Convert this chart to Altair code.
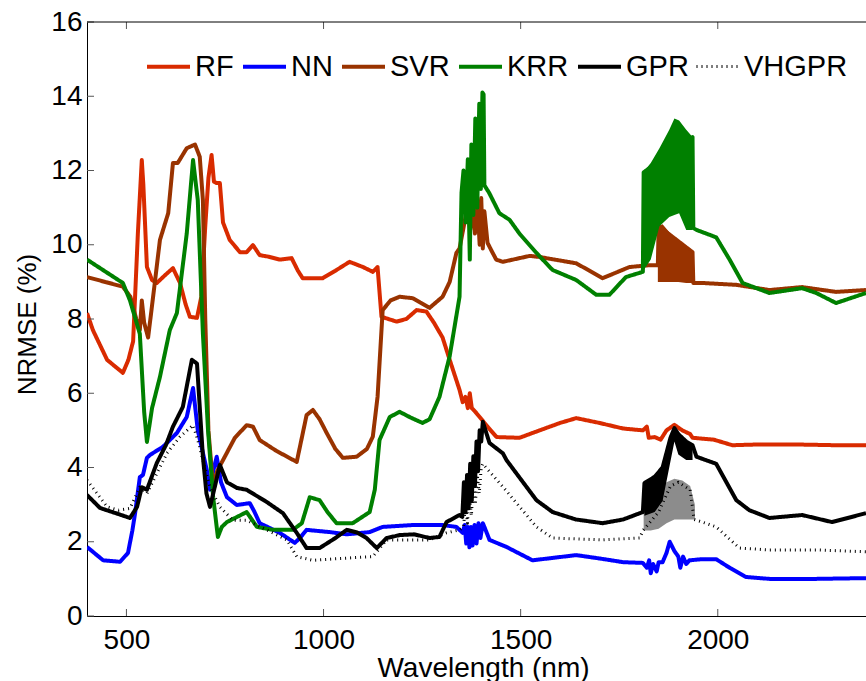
import altair as alt
import pandas as pd

MODELS = ["RF", "NN", "SVR", "KRR", "GPR", "VHGPR"]
COLORS = ["#D92B00", "#0000FF", "#993300", "#008000", "#000000", "#000000"]
DASHES = [[1, 0], [1, 0], [1, 0], [1, 0], [1, 0], [1, 4]]
WIDTHS = [4, 4, 4, 4, 4, 3]

X_TICKS = [500, 1000, 1500, 2000]
Y_TICKS = [0, 2, 4, 6, 8, 10, 12, 14, 16]

RF_WL = [400, 415, 451, 476, 491, 505, 517, 529, 539, 543, 552, 565, 577, 600, 618, 636, 650, 661, 679, 690, 700, 708,
         716, 722, 729, 737, 745, 762, 788, 805, 821, 838, 860, 889, 919, 935, 947, 998, 1030, 1066, 1100, 1125, 1137,
         1147, 1185, 1210, 1236, 1261, 1280, 1302, 1320, 1345, 1353, 1360, 1366, 1371, 1376, 1385, 1396, 1416, 1439,
         1497, 1548, 1600, 1641, 1700, 1760, 1810, 1820, 1825, 1840, 1855, 1870, 1890, 1910, 1930, 1936, 1990, 2037,
         2100, 2200, 2300, 2376]
RF_VAL = [8.16, 7.7, 6.9, 6.68, 6.55, 6.9, 7.4, 10.3, 12.28, 11.6, 9.4, 9.05, 8.97, 9.2, 9.37, 8.97, 8.4, 8.06, 8.03,
          8.6, 10.5, 11.8, 12.42, 11.7, 11.66, 11.66, 10.6, 10.13, 9.8, 9.8, 9.99, 9.72, 9.68, 9.6, 9.64, 9.3, 9.1, 9.1,
          9.3, 9.54, 9.4, 9.27, 9.4, 8.06, 7.93, 8.0, 8.24, 8.2, 7.9, 7.5, 6.9, 6.09, 5.76, 5.9, 5.6, 6.0, 5.6, 5.5,
          5.36, 5.1, 4.82, 4.8, 5.0, 5.2, 5.33, 5.2, 5.05, 5.0, 5.1, 4.8, 4.82, 4.75, 5.0, 5.15, 5.0, 4.9, 4.8, 4.75,
          4.6, 4.62, 4.62, 4.6, 4.6]

NN_WL = [400, 441, 484, 504, 515, 522, 534, 542, 552, 560, 593, 628, 653, 669, 681, 704, 712, 720, 729, 740, 755, 780,
         813, 825, 838, 889, 927, 940, 957, 1016, 1059, 1117, 1150, 1226, 1302, 1337, 1353, 1358, 1362, 1366, 1370,
         1374, 1378, 1383, 1388, 1393, 1398, 1404, 1408, 1421, 1464, 1530, 1641, 1700, 1760, 1810, 1820, 1826, 1830,
         1836, 1845, 1850, 1860, 1870, 1878, 1890, 1900, 1905, 1912, 1920, 1928, 1960, 1996, 2030, 2072, 2131, 2250,
         2376]
NN_VAL = [1.86, 1.5, 1.46, 1.7, 2.3, 2.77, 3.74, 3.8, 4.26, 4.34, 4.56, 4.93, 5.36, 6.14, 5.0, 3.93, 3.4, 3.9, 4.29,
          3.6, 3.2, 2.99, 3.04, 2.8, 2.5, 2.24, 1.97, 2.1, 2.32, 2.26, 2.2, 2.26, 2.4, 2.45, 2.45, 2.4, 2.24, 2.45, 1.95,
          2.4, 1.85, 2.4, 1.9, 2.45, 1.95, 2.5, 2.1, 2.5, 2.4, 2.05, 1.86, 1.5, 1.64, 1.55, 1.45, 1.43, 1.3, 1.5, 1.15,
          1.4, 1.2, 1.45, 1.45, 1.7, 2.0, 1.75, 1.6, 1.3, 1.6, 1.4, 1.5, 1.53, 1.53, 1.3, 1.05, 1.0, 1.0, 1.02]

SVR_WL = [400, 491, 510, 525, 534, 539, 545, 555, 570, 585, 606, 618, 630, 653, 674, 686, 694, 700, 708, 720, 730, 745,
          775, 805, 821, 838, 880, 932, 957, 973, 990, 1008, 1030, 1049, 1084, 1110, 1125, 1137, 1147, 1150, 1170,
          1193, 1226, 1269, 1302, 1320, 1337, 1345, 1362, 1366, 1372, 1378, 1384, 1390, 1396, 1400, 1404, 1408, 1416,
          1429, 1438, 1455, 1523, 1548, 1641, 1708, 1776, 1827, 1848, 1850, 1936, 1938, 1961, 2047, 2131, 2214, 2300,
          2376]
SVR_VAL = [9.13, 8.87, 8.6, 8.0, 7.7, 8.5, 7.9, 7.5, 8.8, 10.13, 10.85, 12.2, 12.2, 12.6, 12.7, 12.37, 11.2, 8.0, 5.0,
           3.47, 3.9, 4.2, 4.8, 5.14, 5.1, 4.74, 4.45, 4.15, 5.41, 5.55, 5.3, 4.93, 4.5, 4.26, 4.29, 4.5, 4.83, 5.9,
           7.7, 8.24, 8.5, 8.6, 8.56, 8.3, 8.6, 9.0, 9.78, 9.9, 10.85, 11.0, 10.4, 11.1, 10.3, 11.2, 10.0, 11.26, 9.9,
           10.9, 10.05, 9.78, 9.6, 9.54, 9.7, 9.67, 9.5, 9.1, 9.4, 9.45, 9.45, 10.5, 9.8, 8.97, 8.97, 8.92, 8.78, 8.86,
           8.73, 8.78]

KRR_WL = [400, 491, 509, 534, 545, 552, 565, 585, 610, 628, 653, 669, 681, 694, 707, 720, 732, 742, 755, 805, 831, 872,
          922, 945, 965, 990, 1010, 1033, 1074, 1117, 1130, 1142, 1168, 1193, 1220, 1251, 1269, 1294, 1320, 1345, 1350,
          1355, 1360, 1366, 1371, 1375, 1380, 1385, 1390, 1395, 1399, 1403, 1406, 1408, 1420, 1446, 1472, 1497, 1540,
          1581, 1641, 1692, 1725, 1767, 1810, 1812, 1936, 1938, 1946, 1996, 2030, 2063, 2131, 2214, 2250, 2300, 2376]
KRR_VAL = [9.6, 8.97, 8.5, 7.6, 5.5, 4.69, 5.6, 6.44, 7.7, 8.16, 10.3, 12.28, 11.2, 7.6, 5.0, 3.2, 2.13, 2.4, 2.53,
           2.8, 2.4, 2.32, 2.32, 2.5, 3.2, 3.12, 2.8, 2.5, 2.5, 2.8, 3.4, 4.74, 5.36, 5.5, 5.35, 5.2, 5.3, 5.9, 7.0,
           8.6, 11.4, 12.0, 10.6, 12.3, 9.6, 12.7, 10.8, 13.4, 11.0, 13.8, 11.5, 14.1, 14.05, 11.6, 11.4, 10.85, 10.67,
           10.3, 9.78, 9.32, 9.05, 8.65, 8.65, 9.13, 9.27, 11.95, 12.9, 10.45, 10.4, 10.2, 9.6, 8.97, 8.7, 8.83, 8.7,
           8.43, 8.7]

GPR_WL = [400, 433, 470, 509, 527, 539, 552, 577, 600, 618, 643, 666, 679, 694, 703, 712, 724, 737, 755, 780, 805, 856,
          897, 932, 957, 990, 1030, 1059, 1085, 1109, 1135, 1160, 1193, 1230, 1269, 1294, 1312, 1345, 1352, 1356, 1360,
          1364, 1368, 1372, 1376, 1380, 1384, 1388, 1392, 1396, 1400, 1404, 1421, 1455, 1464, 1540, 1581, 1640, 1708,
          1760, 1810, 1814, 1840, 1860, 1880, 1890, 1900, 1920, 1936, 1946, 1996, 2047, 2080, 2131, 2214, 2290, 2376]
GPR_VAL = [3.26, 2.91, 2.78, 2.64, 2.94, 3.47, 3.4, 4.12, 4.6, 5.1, 5.63, 6.9, 6.8, 4.29, 3.3, 2.94, 3.47, 4.07, 3.6,
           3.45, 3.4, 3.07, 2.77, 2.24, 1.83, 1.83, 2.1, 2.32, 2.25, 2.1, 1.83, 2.1, 2.18, 2.2, 2.1, 2.13, 2.53, 2.72,
           2.67, 3.6, 2.8, 3.8, 2.9, 4.1, 3.1, 4.3, 3.5, 4.7, 3.9, 5.0, 4.7, 5.23, 4.66, 4.38, 4.2, 3.12, 2.8, 2.6,
           2.5, 2.6, 2.8, 3.58, 3.75, 4.0, 4.8, 5.06, 4.9, 4.7, 4.6, 4.29, 4.1, 3.12, 2.85, 2.64, 2.72, 2.53, 2.77]

VH_WL = [400, 451, 480, 509, 534, 552, 603, 636, 669, 681, 712, 737, 770, 805, 856, 907, 932, 973, 1059, 1125, 1160,
         1269, 1312, 1345, 1355, 1360, 1365, 1370, 1375, 1380, 1385, 1390, 1395, 1400, 1404, 1455, 1540, 1581, 1708,
         1802, 1810, 1850, 1880, 1900, 1930, 1940, 1961, 1996, 2055, 2131, 2250, 2376]
VH_VAL = [3.66, 2.94, 2.85, 2.9, 3.47, 3.3, 4.39, 4.83, 5.14, 4.74, 3.47, 2.94, 2.58, 2.58, 2.32, 2.05, 1.6, 1.5, 1.56,
          1.6, 2.05, 2.05, 2.24, 2.32, 2.4, 3.0, 2.5, 3.3, 2.7, 3.6, 3.0, 3.8, 3.3, 4.0, 4.1, 3.48, 2.4, 2.1, 2.05,
          2.1, 2.3, 2.8, 3.5, 3.6, 3.4, 2.6, 2.53, 2.4, 1.83, 1.78, 1.78, 1.73]

# Dense oscillation zones (envelopes)
SVR_BAND_WL = [1848, 1860, 1880, 1900, 1920, 1936]
SVR_BAND_LO = [9.0, 9.0, 9.0, 9.0, 8.97, 8.97]
SVR_BAND_HI = [10.5, 10.55, 10.3, 10.1, 9.9, 9.8]
KRR_BAND_WL = [1811, 1830, 1852, 1877, 1890, 1902, 1920, 1936]
KRR_BAND_LO = [9.3, 9.6, 10.5, 10.75, 10.8, 10.85, 10.4, 10.4]
KRR_BAND_HI = [11.95, 12.2, 12.6, 13.1, 13.4, 13.35, 13.1, 12.9]
GPR_BAND_WL = [1814, 1840, 1860, 1875, 1890, 1900, 1920, 1936]
GPR_BAND_LO = [2.7, 2.8, 3.1, 3.9, 4.7, 4.35, 4.2, 4.2]
GPR_BAND_HI = [3.58, 3.8, 4.05, 4.7, 5.06, 4.95, 4.7, 4.65]
VH_BAND_WL = [1812, 1830, 1850, 1870, 1890, 1910, 1930, 1942]
VH_BAND_LO = [2.3, 2.3, 2.35, 2.5, 2.6, 2.6, 2.6, 2.6]
VH_BAND_HI = [2.9, 3.2, 3.4, 3.6, 3.7, 3.65, 3.5, 3.0]

series = {
    "RF": (RF_WL, RF_VAL), "NN": (NN_WL, NN_VAL), "SVR": (SVR_WL, SVR_VAL),
    "KRR": (KRR_WL, KRR_VAL), "GPR": (GPR_WL, GPR_VAL), "VHGPR": (VH_WL, VH_VAL),
}
rows = []
for m in MODELS:
    wl, val = series[m]
    for w, v in zip(wl, val):
        rows.append({"model": m, "wl": w, "val": v})
df = pd.DataFrame(rows)

bands = {
    "SVR": (SVR_BAND_WL, SVR_BAND_LO, SVR_BAND_HI),
    "KRR": (KRR_BAND_WL, KRR_BAND_LO, KRR_BAND_HI),
    "GPR": (GPR_BAND_WL, GPR_BAND_LO, GPR_BAND_HI),
    "VHGPR": (VH_BAND_WL, VH_BAND_LO, VH_BAND_HI),
}
brows = []
for m, (wl, lo, hi) in bands.items():
    for w, a, b in zip(wl, lo, hi):
        brows.append({"model": m, "wl": w, "lo": a, "hi": b})
bdf = pd.DataFrame(brows)

W, H = 779, 594
FONT = "Liberation Sans"
XTITLE = "Wavelength (nm)"
YTITLE = "NRMSE (%)"
xscale = alt.Scale(domain=[400, 2376], nice=False, zero=False)
yscale = alt.Scale(domain=[0, 16], nice=False, zero=False)
XAXIS = alt.Axis(values=X_TICKS, format="d", ticks=False, labelPadding=10, grid=False,
                 domainColor="black", domainWidth=1, titleX=396, titleY=60,
                 labelFont=FONT, labelFontSize=28, labelColor="black",
                 titleFont=FONT, titleFontSize=28, titleFontWeight="normal", titleColor="black",
                 titleBaseline="alphabetic", titleAlign="center")
YAXIS = alt.Axis(values=Y_TICKS, format="d", ticks=False, labelPadding=5, grid=False,
                 domainColor="black", domainWidth=1, titleX=-52, titleY=302,
                 labelFont=FONT, labelFontSize=28, labelColor="black",
                 titleFont=FONT, titleFontSize=26, titleFontWeight="normal", titleColor="black",
                 titleAngle=270, titleBaseline="alphabetic", titleAlign="center")


def X(field):
    return alt.X(field, scale=xscale, axis=XAXIS, title=XTITLE)


def Y(field):
    return alt.Y(field, scale=yscale, axis=YAXIS, title=YTITLE)


leg = alt.Legend(title=None, orient="none", legendX=58, legendY=21, direction="horizontal",
                 symbolType="stroke", symbolSize=1849, labelFontSize=29, labelFont=FONT,
                 labelColor="black", columnPadding=1, labelOffset=3, padding=0)

lines = alt.Chart(df).mark_line(clip=True, strokeJoin="round").encode(
    x=X("wl:Q"),
    y=Y("val:Q"),
    color=alt.Color("model:N", scale=alt.Scale(domain=MODELS, range=COLORS), legend=leg),
    strokeDash=alt.StrokeDash("model:N", scale=alt.Scale(domain=MODELS, range=DASHES), legend=leg),
    strokeWidth=alt.StrokeWidth("model:N", scale=alt.Scale(type="ordinal", domain=MODELS, range=WIDTHS),
                                legend=leg),
)

band_models = ["SVR", "KRR", "GPR", "VHGPR"]
band_layer = alt.Chart(bdf).mark_area(clip=True).encode(
    x=X("wl:Q"),
    y=Y("lo:Q"),
    y2="hi:Q",
    fill=alt.Fill("model:N", scale=alt.Scale(domain=band_models, range=["#993300", "#008000", "#000000", "#000000"]),
                  legend=None),
    opacity=alt.Opacity("model:N", scale=alt.Scale(type="ordinal", domain=band_models, range=[1, 1, 1, 0.45]),
                        legend=None),
)

xt = pd.DataFrame({"t": X_TICKS})
yt = pd.DataFrame({"t": Y_TICKS})
TICK = "#555555"
bottom_ticks = alt.Chart(xt).mark_rule(color=TICK, strokeWidth=1).encode(
    x=X("t:Q"), y=alt.value(H), y2=alt.value(H - 7))
top_ticks = alt.Chart(xt).mark_rule(color=TICK, strokeWidth=1).encode(
    x=X("t:Q"), y=alt.value(0), y2=alt.value(7))
left_ticks = alt.Chart(yt).mark_rule(color=TICK, strokeWidth=1).encode(
    y=Y("t:Q"), x=alt.value(0), x2=alt.value(7))
top_spine = alt.Chart(pd.DataFrame({"t": [0]})).mark_rule(color="black", strokeWidth=1).encode(
    x=alt.value(0), x2=alt.value(W), y=alt.value(0))

chart = alt.layer(lines, band_layer, bottom_ticks, top_ticks, left_ticks, top_spine).properties(
    width=W, height=H,
    background="white",
    autosize=alt.AutoSizeParams(type="none"),
    padding={"left": 87, "top": 22, "right": 0, "bottom": 65},
).configure_view(stroke=None)

chart.save("out.html", embed_options={"renderer": "svg", "actions": False})
